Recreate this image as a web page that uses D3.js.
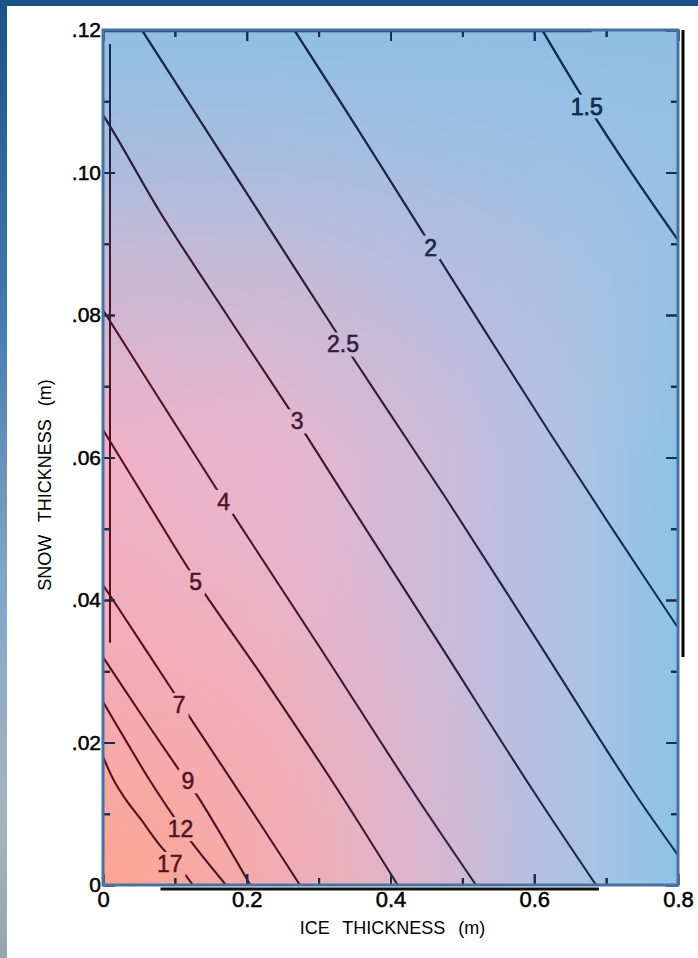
<!DOCTYPE html>
<html>
<head>
<meta charset="utf-8">
<style>
  html, body { margin: 0; padding: 0; background: #fff; }
  svg { display: block; }
</style>
</head>
<body>
<div id="chart"></div>
<script src="https://cdn.jsdelivr.net/npm/d3@7/dist/d3.min.js"></script>
<script>
// contour levels, in the order they are listed below
var levels = ["1.5", "2", "2.5", "3", "4", "5", "7", "9", "12", "17"];

// each contour as [ice thickness (m), snow thickness (m)]
var c1_5 = [[0.611, 0.12], [0.673, 0.1096], [0.737, 0.0997], [0.8, 0.0905]];
var c2   = [[0.266, 0.12], [0.355, 0.1060], [0.456, 0.0898], [0.622, 0.0634], [0.719, 0.0484], [0.8, 0.0361]];
var c2_5 = [[0.054, 0.12], [0.191, 0.0985], [0.334, 0.0761], [0.479, 0.0540], [0.608, 0.0337], [0.737, 0.0133], [0.8, 0.0042]];
var c3   = [[0, 0.1081], [0.021, 0.1046], [0.079, 0.0945], [0.177, 0.0793], [0.270, 0.0651], [0.340, 0.0540], [0.469, 0.0337], [0.598, 0.0133], [0.686, 0]];
var c4   = [[0, 0.0807], [0.079, 0.0681], [0.168, 0.0540], [0.302, 0.0333], [0.430, 0.0133], [0.519, 0]];
var c5   = [[0, 0.0639], [0.065, 0.0532], [0.129, 0.0428], [0.225, 0.0288], [0.327, 0.0133], [0.410, 0]];
var c7   = [[0, 0.0421], [0.014, 0.0400], [0.096, 0.0274], [0.125, 0.0229], [0.218, 0.0087], [0.274, 0]];
var c9   = [[0, 0.0320], [0.052, 0.0241], [0.104, 0.0164], [0.132, 0.0124], [0.205, 0]];
var c12  = [[0, 0.0257], [0.031, 0.0204], [0.065, 0.0147], [0.097, 0.0098], [0.124, 0.0059], [0.171, 0]];
var c17  = [[0, 0.0180], [0.015, 0.0147], [0.031, 0.0121], [0.052, 0.0093], [0.079, 0.0056], [0.107, 0.0024], [0.125, 0]];
var contours = [c1_5, c2, c2_5, c3, c4, c5, c7, c9, c12, c17];

// where each level's label sits on its line
var labelIce  = [0.673, 0.456, 0.334, 0.270, 0.168, 0.129, 0.106, 0.118, 0.108, 0.093];
var labelSnow = [0.1093, 0.0895, 0.0759, 0.0651, 0.0538, 0.0425, 0.0253, 0.0146, 0.0079, 0.0030];

// axes
var xTicks = [0, 0.2, 0.4, 0.6, 0.8];
var xTickLabels = ["0", "0.2", "0.4", "0.6", "0.8"];
var xMinor = [0.1, 0.3, 0.5, 0.7];
var yTicks = [0, 0.02, 0.04, 0.06, 0.08, 0.10, 0.12];
var yTickLabels = ["0", ".02", ".04", ".06", ".08", ".10", ".12"];
var yMinor = [0.01, 0.03, 0.05, 0.07, 0.09, 0.11];

var width = 698, height = 958;
var pL = 103, pR = 678, pT = 30, pB = 885;

var x = d3.scaleLinear().domain([0, 0.8]).range([pL, pR]);
var y = d3.scaleLinear().domain([0, 0.12]).range([pB, pT]);

var svg = d3.select("#chart").append("svg")
  .attr("width", width)
  .attr("height", height);

var defs = svg.append("defs");

function gradient(id, x1, y1, x2, y2, stops) {
  var g = defs.append("linearGradient").attr("id", id)
    .attr("gradientUnits", "userSpaceOnUse")
    .attr("x1", x1).attr("y1", y1).attr("x2", x2).attr("y2", y2);
  stops.forEach(function(s) {
    g.append("stop").attr("offset", s[0]).attr("stop-color", s[1])
      .attr("stop-opacity", s[2] == null ? 1 : s[2]);
  });
}

// plot background
gradient("bgH", pL, 0, pR, 0, [[0, "#efb1c6"], [0.3, "#e9b5cc"], [0.6, "#cabbdb"], [0.85, "#a9c3e4"], [1, "#8cc3e8"]]);
gradient("bgV", 0, pT, 0, pB, [[0, "#8ebfe5", 1], [0.15, "#98c0e4", 0.8], [0.5, "#b0bfe0", 0]]);
var rad = defs.append("radialGradient").attr("id", "bgR")
  .attr("gradientUnits", "userSpaceOnUse")
  .attr("cx", pL).attr("cy", pB).attr("r", 430);
rad.append("stop").attr("offset", 0).attr("stop-color", "#fda48e").attr("stop-opacity", 1);
rad.append("stop").attr("offset", 0.5).attr("stop-color", "#f8a8a6").attr("stop-opacity", 0.55);
rad.append("stop").attr("offset", 1).attr("stop-color", "#f2aec0").attr("stop-opacity", 0);

// ink colours: maroon on the pink side, navy on the blue side
gradient("inkH", pL, 0, pR, 0, [[0, "#5a0e1c"], [0.45, "#361a36"], [1, "#0e2f56"]]);
gradient("inkV", 0, pT, 0, pB, [[0, "#0f2f55", 1], [0.4, "#0f2f55", 0]]);

// page frame pieces
gradient("side", 0, 0, 0, height, [[0, "#1b5189"], [0.3, "#3f77ad"], [0.6, "#7fa6c8"], [0.85, "#a6b4c0"], [1, "#98a5b0"]]);
svg.append("rect").attr("x", 0).attr("y", 0).attr("width", width).attr("height", 6).attr("fill", "#1a5189");
svg.append("rect").attr("x", 0).attr("y", 0).attr("width", 7).attr("height", height).attr("fill", "url(#side)");

var clip = defs.append("clipPath").attr("id", "plotClip");
clip.append("rect").attr("x", pL).attr("y", pT).attr("width", pR - pL).attr("height", pB - pT);

["bgH", "bgR", "bgV"].forEach(function(id) {
  svg.append("rect")
    .attr("x", pL).attr("y", pT)
    .attr("width", pR - pL).attr("height", pB - pT)
    .attr("fill", "url(#" + id + ")");
});

var line = d3.line()
  .x(function(d) { return x(d[0]); })
  .y(function(d) { return y(d[1]); })
  .curve(d3.curveCatmullRom.alpha(0.5));

var mask = defs.append("mask").attr("id", "gaps")
  .attr("maskUnits", "userSpaceOnUse")
  .attr("x", 0).attr("y", 0).attr("width", width).attr("height", height);
mask.append("rect").attr("width", width).attr("height", height).attr("fill", "#fff");

function drawInk(paint, first) {
  var g = svg.append("g");

  var labels = g.append("g")
    .attr("font-family", "'Liberation Sans', Arial, sans-serif")
    .attr("font-size", 23)
    .attr("fill", paint)
    .attr("stroke", paint)
    .attr("stroke-width", 0.5)
    .selectAll("text")
    .data(levels)
    .join("text")
      .attr("x", function(d, i) { return x(labelIce[i]); })
      .attr("y", function(d, i) { return y(labelSnow[i]); })
      .attr("dy", "0.36em")
      .attr("text-anchor", "middle")
      .text(function(d) { return d; });

  if (first) {
    labels.each(function() {
      var b = this.getBBox();
      mask.append("rect")
        .attr("x", b.x - 3).attr("y", b.y + 1)
        .attr("width", b.width + 6).attr("height", b.height - 2)
        .attr("fill", "#000");
    });
  }

  g.append("g")
    .attr("clip-path", "url(#plotClip)")
    .append("g")
    .attr("mask", "url(#gaps)")
    .selectAll("path")
    .data(contours)
    .join("path")
      .attr("d", line)
      .attr("fill", "none")
      .attr("stroke", paint)
      .attr("stroke-width", 2.1);

  // inward ticks on all four sides
  function ticks(axis, tr) {
    var a = g.append("g").attr("transform", tr).call(axis);
    a.select(".domain").remove();
    a.selectAll("line").attr("stroke", paint).attr("stroke-width", 2);
    a.selectAll("text").remove();
  }
  ticks(d3.axisLeft(y).tickValues(yTicks).tickSizeInner(-12).tickSizeOuter(0), "translate(" + pL + ",0)");
  ticks(d3.axisLeft(y).tickValues(yMinor).tickSizeInner(-7).tickSizeOuter(0), "translate(" + pL + ",0)");
  ticks(d3.axisRight(y).tickValues(yTicks).tickSizeInner(-12).tickSizeOuter(0), "translate(" + pR + ",0)");
  ticks(d3.axisRight(y).tickValues(yMinor).tickSizeInner(-7).tickSizeOuter(0), "translate(" + pR + ",0)");
  ticks(d3.axisBottom(x).tickValues(xTicks).tickSizeInner(-11).tickSizeOuter(0), "translate(0," + pB + ")");
  ticks(d3.axisBottom(x).tickValues(xMinor).tickSizeInner(-7).tickSizeOuter(0), "translate(0," + pB + ")");
  ticks(d3.axisTop(x).tickValues(xTicks).tickSizeInner(-11).tickSizeOuter(0), "translate(0," + pT + ")");
  ticks(d3.axisTop(x).tickValues(xMinor).tickSizeInner(-7).tickSizeOuter(0), "translate(0," + pT + ")");

  // the old black frame shows a little inside the left edge
  g.append("line")
    .attr("x1", pL + 7).attr("x2", pL + 7)
    .attr("y1", y(0.118)).attr("y2", y(0.034))
    .attr("stroke", paint).attr("stroke-width", 2);
}

drawInk("url(#inkH)", true);
drawInk("url(#inkV)", false);

// black frame offsets outside the blue frame
svg.append("line")
  .attr("x1", pR + 5).attr("x2", pR + 5)
  .attr("y1", pT).attr("y2", y(0.032))
  .attr("stroke", "#000").attr("stroke-width", 3);
svg.append("line")
  .attr("x1", x(0.08)).attr("x2", x(0.69))
  .attr("y1", pB + 4).attr("y2", pB + 4)
  .attr("stroke", "#111").attr("stroke-width", 3);
svg.append("line")
  .attr("x1", pL).attr("x2", x(0.68))
  .attr("y1", pT + 1).attr("y2", pT + 1)
  .attr("stroke", "#17355a").attr("stroke-width", 2.5);

// blue plot frame
svg.append("rect")
  .attr("x", pL).attr("y", pT)
  .attr("width", pR - pL).attr("height", pB - pT)
  .attr("fill", "none")
  .attr("stroke", "#4673a3")
  .attr("stroke-width", 3);

// tick labels
var xLab = svg.append("g")
  .attr("transform", "translate(0," + pB + ")")
  .call(d3.axisBottom(x).tickValues(xTicks).tickSize(0).tickPadding(6)
    .tickFormat(function(d, i) { return xTickLabels[i]; }));
xLab.select(".domain").remove();
xLab.selectAll("text")
  .attr("font-family", "'Liberation Sans', Arial, sans-serif")
  .attr("font-size", 22).attr("fill", "#000")
  .attr("stroke", "#000").attr("stroke-width", 0.5);

var yLab = svg.append("g")
  .attr("transform", "translate(" + pL + ",0)")
  .call(d3.axisLeft(y).tickValues(yTicks).tickSize(0).tickPadding(2)
    .tickFormat(function(d, i) { return yTickLabels[i]; }));
yLab.select(".domain").remove();
yLab.selectAll("text")
  .attr("font-family", "'Liberation Sans', Arial, sans-serif")
  .attr("font-size", 21).attr("fill", "#000")
  .attr("stroke", "#000").attr("stroke-width", 0.5);

// axis titles
svg.append("text")
  .attr("x", (pL + pR) / 2 + 2)
  .attr("y", 934)
  .attr("text-anchor", "middle")
  .attr("font-family", "'Liberation Sans', Arial, sans-serif")
  .attr("font-size", 18)
  .attr("word-spacing", 8)
  .attr("fill", "#000")
  .text("ICE THICKNESS (m)");

svg.append("text")
  .attr("transform", "translate(51,485) rotate(-90)")
  .attr("text-anchor", "middle")
  .attr("font-family", "'Liberation Sans', Arial, sans-serif")
  .attr("font-size", 18)
  .attr("word-spacing", 8)
  .attr("fill", "#000")
  .text("SNOW THICKNESS (m)");
</script>
</body>
</html>
